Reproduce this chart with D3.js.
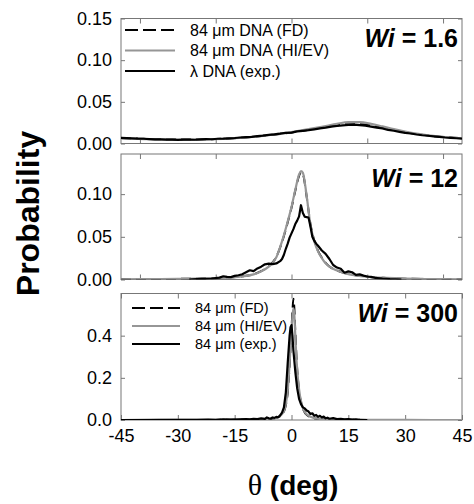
<!DOCTYPE html>
<html>
<head>
<meta charset="utf-8">
<script src="https://cdn.jsdelivr.net/npm/d3@7"></script>
<style>
  body { margin: 0; background: #fff; }
  svg { font-family: "Liberation Sans", Arial, Helvetica, sans-serif; }
</style>
</head>
<body>
<svg width="474" height="504"></svg>
<script>
// ---- data ----
var xTicksLabelled = [-45, -30, -15, 0, 15, 30, 45];
var xTicksPlain = [-40, -20, 0, 20, 40];

// Wi = 1.6
var theta1 = [-45,-42,-39,-36,-33,-30,-27,-24,-21,-18,-15,-12,-9,-6,-3,0,3,6,9,12,15,18,21,24,27,30,33,36,39,42,45];
var fd1 = [0.0065,0.0060,0.0056,0.0052,0.0049,0.0047,0.0047,0.0049,0.0052,0.0057,0.0064,0.0073,0.0085,0.0099,0.0115,0.0133,0.0153,0.0175,0.0198,0.0218,0.0232,0.0232,0.0218,0.0192,0.0163,0.0136,0.0114,0.0096,0.0082,0.0071,0.0063];
var hi1 = [0.0062,0.0057,0.0053,0.0049,0.0046,0.0045,0.0045,0.0047,0.0051,0.0056,0.0063,0.0073,0.0085,0.0100,0.0118,0.0138,0.0160,0.0184,0.0210,0.0236,0.0256,0.0256,0.0236,0.0205,0.0172,0.0143,0.0118,0.0099,0.0084,0.0072,0.0063];
var thetaExp1 = [-45,-43.5,-42,-40.5,-39,-37.5,-36,-34.5,-33,-31.5,-30,-28.5,-27,-25.5,-24,-22.5,-21,-19.5,-18,-16.5,-15,-13.5,-12,-10.5,-9,-7.5,-6,-4.5,-3,-1.5,0,1.5,3,4.5,6,7.5,9,10.5,12,13.5,15,16.5,18,19.5,21,22.5,24,25.5,27,28.5,30,31.5,33,34.5,36,37.5,39,40.5,42,43.5,45];
var exp1 = [0.0068,0.0064,0.0061,0.0058,0.0057,0.0053,0.0050,0.0049,0.0046,0.0047,0.0044,0.0046,0.0048,0.0045,0.0050,0.0053,0.0051,0.0057,0.0058,0.0062,0.0066,0.0072,0.0077,0.0080,0.0089,0.0094,0.0104,0.0110,0.0118,0.0128,0.0131,0.0145,0.0152,0.0160,0.0170,0.0181,0.0190,0.0203,0.0210,0.0218,0.0222,0.0226,0.0221,0.0214,0.0203,0.0190,0.0180,0.0164,0.0153,0.0140,0.0128,0.0120,0.0108,0.0099,0.0093,0.0086,0.0079,0.0072,0.0068,0.0063,0.0058];

// Wi = 12
var theta2 = [-45,-40,-35,-30,-25,-20,-16,-13,-10,-8,-6,-5,-4,-3,-2,-1,0,1,2,2.5,3,4,5,6,7,8,9,10,12,14,17,20,25,30,35,40,45];
var fd2 = [0.0003,0.0004,0.0005,0.0007,0.0010,0.0016,0.0026,0.0038,0.0062,0.0098,0.0155,0.0200,0.0265,0.0375,0.0510,0.0670,0.0840,0.1040,0.1215,0.1255,0.1235,0.0970,0.0650,0.0460,0.0335,0.0255,0.0195,0.0153,0.0107,0.0077,0.0050,0.0033,0.0018,0.0010,0.0006,0.0004,0.0003];
var hi2 = [0.0003,0.0004,0.0005,0.0007,0.0010,0.0016,0.0025,0.0037,0.0060,0.0095,0.0150,0.0195,0.0260,0.0380,0.0520,0.0680,0.0850,0.1050,0.1230,0.1270,0.1250,0.0980,0.0640,0.0450,0.0330,0.0250,0.0190,0.0150,0.0105,0.0075,0.0048,0.0032,0.0018,0.0010,0.0006,0.0004,0.0003];
var thetaExp2 = [-27,-25,-23,-21,-19,-18,-17,-16,-15,-14,-13,-12,-11,-10,-9,-8,-7,-6,-5,-4,-3,-2.5,-2,-1.5,-1,-0.5,0,0.5,1,1.5,2,2.5,3,3.5,4,4.5,5,5.5,6,6.5,7,8,9,10,11,12,13,14,15,16,17,18,19,20,21,22,24,26,29];
var exp2 = [0,0.0005,0.0008,0.0012,0.0022,0.0038,0.0030,0.0028,0.0042,0.0050,0.0062,0.0085,0.0108,0.0098,0.0130,0.0150,0.0178,0.0185,0.0180,0.0188,0.0215,0.0240,0.0290,0.0360,0.0420,0.0490,0.0540,0.0590,0.0650,0.0690,0.0740,0.0870,0.0780,0.0735,0.0730,0.0725,0.0620,0.0500,0.0455,0.0420,0.0395,0.0340,0.0300,0.0240,0.0170,0.0140,0.0125,0.0080,0.0095,0.0085,0.0055,0.0060,0.0045,0.0035,0.0030,0.0020,0.0012,0.0006,0];

// Wi = 300
var theta3 = [-45,-30,-20,-15,-10,-7,-5,-4,-3,-2.5,-2,-1.5,-1,-0.5,0,0.25,0.5,0.75,1,1.5,2,2.5,3,3.5,4,5,7,10,15,20,30,45];
var fd3 = [0,0.0002,0.0005,0.001,0.002,0.004,0.007,0.011,0.018,0.026,0.04,0.07,0.13,0.26,0.43,0.52,0.575,0.53,0.42,0.24,0.14,0.085,0.055,0.036,0.025,0.014,0.006,0.003,0.001,0.0005,0.0002,0];
var hi3 = [0,0.0002,0.0005,0.001,0.002,0.004,0.007,0.011,0.019,0.028,0.042,0.075,0.14,0.27,0.42,0.49,0.53,0.50,0.40,0.24,0.145,0.09,0.058,0.038,0.027,0.015,0.006,0.003,0.001,0.0005,0.0002,0];
var thetaExp3 = [-45,-35,-25,-22,-20,-18,-16,-14,-12,-11,-10,-9,-8,-7,-6.5,-6,-5.5,-5,-4.5,-4,-3.5,-3,-2.5,-2,-1.5,-1,-0.5,-0.25,0,0.25,0.5,1,1.5,2,2.5,3,3.5,4,4.5,5,5.5,6,6.5,7,7.5,8,8.5,9,9.5,10,11,12,13,14,15,16,17,18,20];
var exp3 = [0,0.001,0.001,0.002,0.001,0.003,0.002,0.003,0.004,0.003,0.006,0.004,0.008,0.005,0.012,0.008,0.006,0.012,0.010,0.015,0.013,0.022,0.035,0.06,0.13,0.27,0.40,0.44,0.45,0.40,0.33,0.23,0.15,0.10,0.075,0.06,0.055,0.045,0.04,0.028,0.032,0.02,0.024,0.015,0.02,0.012,0.016,0.008,0.011,0.006,0.009,0.004,0.006,0.003,0.004,0.002,0.003,0.001,0];

var legend1 = ["84 \u03bcm DNA (FD)", "84 \u03bcm DNA (HI/EV)", "\u03bb DNA (exp.)"];
var legend3 = ["84 \u03bcm (FD)", "84 \u03bcm (HI/EV)", "84 \u03bcm (exp.)"];
var wiLabels = ["1.6", "12", "300"];

// ---- layout ----
var svg = d3.select("svg");
var x = d3.scaleLinear().domain([-45, 45]).range([121, 462]);
var GRAY = "#969696", BOX = "#777";

var panels = [
  {top: 18.5, bottom: 143.5, ymax: 0.15, yticks: [0, 0.05, 0.10, 0.15], fmt: ".2f", xt: xTicksPlain,
   theta: theta1, fd: fd1, hi: hi1, thetaExp: thetaExp1, exp: exp1, wi: wiLabels[0], wiY: 47,
   legend: legend1, legY: [30, 50.5, 71], legX: [125, 175, 190], legFont: 16},
  {top: 154, bottom: 279.5, ymax: 0.147, yticks: [0, 0.05, 0.10], fmt: ".2f", xt: xTicksPlain,
   theta: theta2, fd: fd2, hi: hi2, thetaExp: thetaExp2, exp: exp2, wi: wiLabels[1], wiY: 187},
  {top: 293.5, bottom: 420, ymax: 0.6, yticks: [0, 0.2, 0.4], fmt: ".1f", xt: xTicksLabelled,
   theta: theta3, fd: fd3, hi: hi3, thetaExp: thetaExp3, exp: exp3, wi: wiLabels[2], wiY: 322,
   legend: legend3, legY: [308, 326, 344], legX: [132, 180, 195], legFont: 14.5, labelled: true}
];

panels.forEach(function(p, i) {
  var y = d3.scaleLinear().domain([0, p.ymax]).range([p.bottom, p.top]);
  var g = svg.append("g");

  var clipId = "clip" + i;
  svg.append("clipPath").attr("id", clipId).append("rect")
      .attr("x", 121).attr("y", p.top).attr("width", 341).attr("height", p.bottom - p.top);

  // axes, ticks pointing inwards
  g.append("g").attr("transform", "translate(121,0)")
      .call(d3.axisLeft(y).tickValues(p.yticks).tickSize(-4).tickPadding(9).tickFormat(d3.format(p.fmt)));
  g.append("g").attr("transform", "translate(462,0)")
      .call(d3.axisRight(y).tickValues(p.yticks).tickSize(-4).tickFormat(""));
  g.append("g").attr("transform", "translate(0," + p.top + ")")
      .call(d3.axisTop(x).tickValues(p.xt).tickSize(-5).tickFormat(""));
  // plain hyphen for negatives, as in the original
  g.append("g").attr("transform", "translate(0," + p.bottom + ")")
      .call(d3.axisBottom(x).tickValues(p.xt).tickSize(-5).tickPadding(9)
        .tickFormat(p.labelled ? function(d) { return String(d); } : ""));
  g.selectAll(".domain").remove();
  g.selectAll(".tick line").attr("stroke", BOX);
  g.selectAll(".tick text").attr("font-size", 18).attr("fill", "#000")
      .attr("font-family", "'Liberation Sans', Arial, sans-serif");

  g.append("rect")
      .attr("x", 121).attr("y", p.top).attr("width", 341).attr("height", p.bottom - p.top)
      .attr("fill", "none").attr("stroke", BOX).attr("stroke-width", 1);

  var smooth = d3.line().x(function(d) { return x(d[0]); }).y(function(d) { return y(d[1]); })
      .curve(d3.curveMonotoneX);
  var raw = d3.line().x(function(d) { return x(d[0]); }).y(function(d) { return y(d[1]); });

  var curves = g.append("g").attr("clip-path", "url(#" + clipId + ")");
  curves.append("path").datum(d3.zip(p.theta, p.fd)).attr("d", smooth)
      .attr("fill", "none").attr("stroke", "#000").attr("stroke-width", 2).attr("stroke-dasharray", "10,5");
  curves.append("path").datum(d3.zip(p.theta, p.hi)).attr("d", smooth)
      .attr("fill", "none").attr("stroke", GRAY).attr("stroke-width", 2.2);
  curves.append("path").datum(d3.zip(p.thetaExp, p.exp)).attr("d", raw)
      .attr("fill", "none").attr("stroke", "#000").attr("stroke-width", 2.2).attr("stroke-linejoin", "round");

  // Wi label
  var t = g.append("text").attr("x", 458).attr("y", p.wiY).attr("text-anchor", "end")
      .attr("font-size", 25).attr("font-weight", "bold");
  t.append("tspan").attr("font-style", "italic").text("Wi");
  t.append("tspan").text(" = " + p.wi);

  // legend
  if (p.legend) {
    var styles = [{c: "#000", dash: "13,5"}, {c: GRAY, dash: null}, {c: "#000", dash: null}];
    var leg = g.selectAll(".leg").data(p.legend).enter().append("g");
    leg.append("line")
        .attr("x1", p.legX[0]).attr("x2", p.legX[1])
        .attr("y1", function(d, k) { return p.legY[k]; })
        .attr("y2", function(d, k) { return p.legY[k]; })
        .attr("stroke", function(d, k) { return styles[k].c; })
        .attr("stroke-width", 2.2)
        .attr("stroke-dasharray", function(d, k) { return styles[k].dash; });
    leg.append("text")
        .attr("x", p.legX[2])
        .attr("y", function(d, k) { return p.legY[k]; })
        .attr("dy", "0.35em")
        .attr("font-size", p.legFont)
        .text(function(d) { return d; });
  }
});

// axis titles
svg.append("text")
    .attr("transform", "translate(39,213.5) rotate(-90)")
    .attr("text-anchor", "middle")
    .attr("font-size", 32).attr("font-weight", "bold")
    .text("Probability");

var xl = svg.append("text").attr("x", 293).attr("y", 495).attr("text-anchor", "middle")
    .attr("font-size", 28).attr("font-weight", "bold");
xl.append("tspan").attr("font-family", "'Liberation Serif', 'Times New Roman', serif")
    .attr("font-weight", "normal").attr("font-size", 30).text("\u03b8");
xl.append("tspan").text(" (deg)");
</script>
</body>
</html>
